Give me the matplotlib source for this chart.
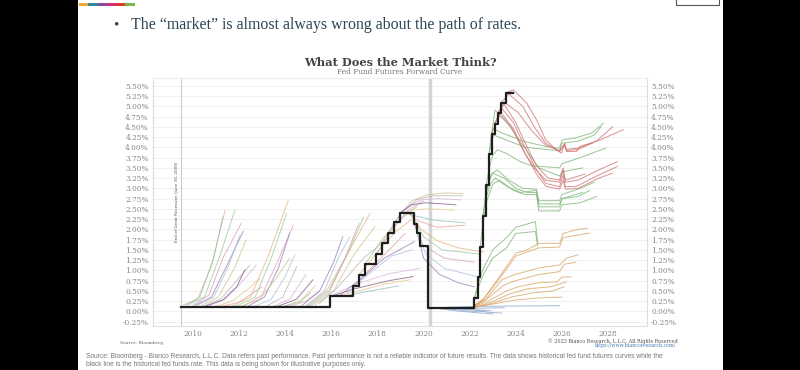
import numpy as np
import matplotlib.pyplot as plt
import matplotlib.patches as mpatches

# ---- data (year, rate %) ----
ff_dates = [2009.5, 2015.96, 2016.96, 2017.21, 2017.46, 2017.96, 2018.21, 2018.46, 2018.73,
            2018.97, 2019.58, 2019.72, 2019.83, 2020.2, 2022.21, 2022.35, 2022.46, 2022.57,
            2022.72, 2022.84, 2022.96, 2023.09, 2023.22, 2023.35, 2023.57, 2023.9]
ff_rates = [0.12, 0.37, 0.62, 0.9, 1.15, 1.41, 1.68, 1.91, 2.18,
            2.4, 2.13, 1.9, 1.6, 0.08, 0.33, 0.83, 1.58, 2.33,
            3.08, 3.83, 4.33, 4.58, 4.83, 5.08, 5.33, 5.33]

curves_2010 = [
    [(2009.6, 0.16), (2010.2, 0.3), (2010.8, 1.1), (2011.39, 2.46)],
    [(2009.8, 0.16), (2010.5, 0.35), (2011.2, 1.4), (2011.82, 2.47)],
    [(2010.0, 0.15), (2010.7, 0.4), (2011.3, 1.3), (2012.1, 2.15)],
    [(2010.1, 0.15), (2010.8, 0.35), (2011.5, 1.15), (2012.18, 1.95)],
    [(2010.2, 0.15), (2010.9, 0.35), (2011.5, 1.05), (2012.04, 1.86)],
    [(2010.4, 0.15), (2011.1, 0.35), (2011.8, 1.05), (2012.3, 1.74)],
    [(2010.5, 0.14), (2011.2, 0.3), (2011.9, 0.75), (2012.47, 1.13)],
    [(2010.7, 0.14), (2011.4, 0.3), (2012.1, 0.7), (2012.75, 1.13)],
    [(2010.6, 0.14), (2011.3, 0.28), (2011.9, 0.6), (2012.25, 1.01)],
    [(2011.0, 0.13), (2011.7, 0.25), (2012.4, 0.55), (2012.9, 0.8)],
    [(2009.7, 0.16), (2010.3, 0.35), (2010.9, 1.3), (2011.3, 2.3)],
    [(2011.2, 0.12), (2012.0, 0.22), (2012.6, 0.45), (2013.0, 0.6)],
]
curves_2012 = [
    [(2011.7, 0.13), (2012.5, 0.35), (2013.3, 1.4), (2014.13, 2.70)],
    [(2011.9, 0.13), (2012.7, 0.35), (2013.4, 1.3), (2014.06, 2.39)],
    [(2012.2, 0.13), (2013.0, 0.4), (2013.7, 1.25), (2014.35, 2.10)],
    [(2012.4, 0.13), (2013.1, 0.35), (2013.7, 1.05), (2014.2, 1.91)],
    [(2012.7, 0.13), (2013.4, 0.3), (2014.0, 0.85), (2014.42, 1.38)],
    [(2012.1, 0.13), (2012.9, 0.3), (2013.6, 0.8), (2014.2, 1.3)],
]
curves_2014 = [
    [(2013.2, 0.13), (2013.9, 0.35), (2014.5, 1.09)],
    [(2013.5, 0.13), (2014.2, 0.3), (2014.9, 0.9)],
    [(2013.7, 0.13), (2014.5, 0.3), (2015.2, 0.77)],
    [(2014.0, 0.13), (2014.7, 0.28), (2015.3, 0.62)],
    [(2013.9, 0.12), (2014.6, 0.22), (2015.1, 0.45)],
    [(2014.2, 0.12), (2014.9, 0.25), (2015.5, 0.5)],
]
curves_2016 = [
    [(2014.9, 0.13), (2015.8, 0.5), (2016.8, 1.5), (2017.68, 2.39)],
    [(2015.0, 0.13), (2015.9, 0.5), (2016.7, 1.4), (2017.4, 2.3)],
    [(2015.1, 0.13), (2015.9, 0.45), (2016.6, 1.3), (2017.2, 2.15)],
    [(2014.7, 0.13), (2015.5, 0.5), (2016.1, 1.2), (2016.5, 1.82)],
    [(2014.9, 0.13), (2015.7, 0.5), (2016.3, 1.3), (2016.8, 1.82)],
    [(2015.3, 0.15), (2016.1, 0.5), (2017.0, 1.4), (2017.9, 2.07)],
    [(2015.5, 0.2), (2016.3, 0.6), (2017.4, 1.3), (2018.5, 1.8)],
    [(2015.96, 0.37), (2017.0, 0.65), (2018.5, 0.92), (2019.84, 1.05)],
    [(2016.0, 0.37), (2017.0, 0.55), (2018.5, 0.75), (2019.55, 0.85)],
    [(2016.2, 0.37), (2017.2, 0.5), (2018.4, 0.68), (2019.4, 0.77)],
    [(2016.5, 0.37), (2017.5, 0.48), (2018.9, 0.62)],
    [(2016.96, 0.62), (2017.8, 1.1), (2018.6, 1.55), (2019.2, 1.9)],
    [(2017.21, 0.9), (2018.0, 1.45), (2018.8, 1.95), (2019.5, 2.25)],
    [(2017.46, 1.15), (2018.2, 1.75), (2019.0, 2.25), (2019.7, 2.55)],
    [(2017.96, 1.41), (2018.6, 1.95), (2019.3, 2.45), (2020.0, 2.7)],
    [(2016.4, 0.4), (2017.3, 0.8), (2018.3, 1.3), (2019.6, 1.7)],
    [(2016.7, 0.45), (2017.6, 0.9), (2018.6, 1.35), (2019.5, 1.5)],
]
curves_2019 = [
    [(2018.21, 1.68), (2018.9, 2.3), (2019.5, 2.7), (2020.2, 2.85), (2021.0, 2.89), (2021.7, 2.87)],
    [(2018.46, 1.91), (2019.1, 2.45), (2019.7, 2.72), (2020.4, 2.82), (2021.7, 2.82)],
    [(2018.73, 2.18), (2019.3, 2.55), (2019.9, 2.72), (2020.6, 2.75), (2021.6, 2.72)],
    [(2018.97, 2.4), (2019.5, 2.6), (2020.1, 2.65), (2021.4, 2.6)],
    [(2019.1, 2.4), (2019.6, 2.48), (2020.3, 2.5), (2021.3, 2.47)],
    [(2019.2, 2.4), (2019.7, 2.32), (2020.5, 2.22), (2021.8, 2.16)],
    [(2019.3, 2.4), (2019.8, 2.2), (2020.6, 2.05), (2021.8, 2.1)],
    [(2019.4, 2.4), (2019.9, 2.0), (2020.6, 1.72), (2021.5, 1.55), (2022.6, 1.45)],
    [(2019.5, 2.35), (2020.0, 1.82), (2020.8, 1.5), (2022.4, 1.4)],
    [(2019.58, 2.13), (2020.0, 1.6), (2020.9, 1.3), (2022.2, 1.2)],
    [(2019.65, 2.1), (2020.0, 1.3), (2020.7, 0.9), (2021.5, 0.7), (2022.2, 0.6)],
    [(2019.75, 1.9), (2020.1, 1.4), (2020.9, 1.05), (2022.3, 0.85)],
]
curves_2020 = [
    [(2020.3, 0.09), (2021.0, 0.06), (2022.0, 0.05), (2022.9, 0.02)],
    [(2020.4, 0.09), (2021.3, 0.02), (2022.3, -0.03), (2023.0, -0.06)],
    [(2020.6, 0.09), (2021.5, 0.07), (2022.5, 0.08), (2023.5, 0.09)],
    [(2021.0, 0.1), (2022.0, 0.12), (2023.5, 0.13), (2025.9, 0.14)],
    [(2020.8, 0.08), (2021.6, 0.03), (2022.2, 0.0), (2022.7, 0.01)],
    [(2021.3, 0.09), (2022.0, 0.05), (2022.8, -0.02), (2023.4, -0.04)],
]
curves_2021 = [
    [(2022.1, 0.1), (2022.6, 0.3), (2023.3, 0.85), (2024.0, 1.42), (2024.5, 1.5), (2025.0, 1.66),
     (2025.9, 1.66), (2026.05, 1.9), (2026.6, 1.99), (2027.1, 2.03)],
    [(2022.1, 0.1), (2022.6, 0.3), (2023.3, 0.8), (2024.0, 1.35), (2024.5, 1.45), (2025.0, 1.55),
     (2025.9, 1.57), (2026.05, 1.8), (2026.6, 1.85), (2027.2, 1.91)],
    [(2022.1, 0.1), (2022.7, 0.3), (2023.4, 0.77), (2023.9, 0.89), (2025.0, 1.06), (2025.9, 1.13),
     (2026.2, 1.3), (2026.7, 1.38)],
    [(2022.1, 0.1), (2022.7, 0.28), (2023.5, 0.65), (2024.0, 0.75), (2025.0, 0.9), (2025.9, 0.97),
     (2026.1, 1.15), (2026.6, 1.2)],
    [(2022.1, 0.1), (2022.8, 0.25), (2023.6, 0.5), (2024.1, 0.6), (2025.0, 0.7), (2025.8, 0.72),
     (2026.0, 0.84), (2026.4, 0.84)],
    [(2022.2, 0.1), (2022.9, 0.22), (2023.7, 0.42), (2024.5, 0.55), (2025.5, 0.6), (2026.2, 0.72)],
    [(2022.2, 0.1), (2023.0, 0.2), (2023.8, 0.35), (2024.7, 0.45), (2025.6, 0.5), (2026.1, 0.6)],
    [(2022.2, 0.1), (2023.0, 0.18), (2024.0, 0.28), (2025.0, 0.33), (2026.0, 0.35)],
]
curves_2022 = [
    [(2022.21, 0.33), (2022.35, 0.65), (2022.6, 1.05), (2023.0, 1.5), (2023.6, 1.8), (2024.0, 2.05),
     (2024.85, 2.19), (2024.95, 1.67)],
    [(2022.21, 0.33), (2022.35, 0.55), (2022.6, 0.9), (2023.0, 1.3), (2023.6, 1.55), (2024.0, 1.9),
     (2024.85, 1.95), (2024.95, 1.6)],
    [(2022.46, 1.58), (2022.58, 2.2), (2022.75, 2.7), (2023.0, 3.1), (2023.3, 3.2), (2023.9, 2.95),
     (2024.4, 2.85), (2024.9, 2.85), (2025.0, 2.45), (2025.9, 2.45), (2026.0, 2.6), (2026.8, 2.65),
     (2027.5, 2.8)],
    [(2022.57, 2.33), (2022.7, 2.85), (2022.85, 3.2), (2023.0, 3.37), (2023.5, 3.25), (2024.0, 3.0),
     (2024.5, 2.9), (2024.9, 2.9), (2025.0, 2.55), (2025.9, 2.55), (2026.0, 2.75), (2026.7, 2.8),
     (2027.2, 2.95)],
    [(2022.57, 2.33), (2022.7, 2.75), (2022.9, 3.1), (2023.1, 3.25), (2023.6, 3.05), (2024.2, 2.9),
     (2024.9, 2.95), (2025.0, 2.7), (2025.9, 2.7), (2026.0, 2.85), (2026.8, 3.0), (2027.4, 3.15)],
    [(2022.72, 3.08), (2022.85, 3.5), (2023.0, 3.8), (2023.2, 3.94), (2023.6, 3.85), (2024.2, 3.65),
     (2024.7, 3.55), (2025.9, 3.5), (2026.0, 3.6), (2026.8, 3.75), (2027.9, 3.98)],
    [(2022.84, 3.83), (2022.92, 4.25), (2023.0, 4.47), (2023.4, 4.35), (2024.4, 4.14), (2025.3, 4.02),
     (2025.9, 3.98), (2026.0, 4.18), (2026.6, 4.23), (2027.3, 4.35), (2027.8, 4.59)],
    [(2022.84, 3.83), (2022.95, 4.15), (2023.05, 4.3), (2023.5, 4.2), (2024.4, 4.0), (2025.3, 3.95),
     (2025.9, 3.92), (2026.0, 4.1), (2026.7, 4.15), (2027.4, 4.3), (2027.7, 4.5)],
    [(2022.96, 4.33), (2023.1, 4.91), (2023.5, 4.7), (2024.0, 4.3), (2024.5, 3.9), (2025.0, 3.5),
     (2025.9, 3.3), (2026.0, 3.4), (2026.9, 3.5)],
    [(2022.66, 2.7), (2022.8, 3.1), (2022.95, 3.35), (2023.2, 3.45), (2023.7, 3.2), (2024.3, 3.0),
     (2024.9, 2.98), (2025.0, 2.62), (2025.9, 2.62), (2026.0, 2.75), (2026.9, 2.9)],
]
curves_2023 = [
    [(2023.57, 5.33), (2023.9, 5.4), (2024.47, 5.08), (2024.9, 4.67), (2025.3, 4.18), (2025.75, 3.94),
     (2025.98, 3.86), (2026.13, 4.1), (2026.2, 3.9), (2026.64, 3.9), (2026.78, 4.02), (2027.65, 4.18),
     (2028.66, 4.43)],
    [(2023.35, 5.08), (2023.7, 5.3), (2024.3, 5.0), (2024.8, 4.5), (2025.3, 4.1), (2025.9, 3.9),
     (2026.1, 4.05), (2026.2, 3.92), (2026.7, 3.95), (2027.5, 4.15), (2028.2, 4.5)],
    [(2023.22, 4.83), (2023.5, 5.1), (2024.1, 4.85), (2024.7, 4.4), (2025.3, 4.05), (2025.9, 3.92),
     (2026.1, 4.08), (2026.2, 3.95), (2026.7, 3.98), (2027.3, 4.1)],
    [(2023.09, 4.58), (2023.4, 4.95), (2023.9, 4.6), (2024.4, 4.0), (2024.9, 3.45), (2025.3, 3.12),
     (2025.9, 3.04), (2026.05, 3.33), (2026.15, 3.04), (2026.64, 3.05), (2027.5, 3.3), (2028.4, 3.53)],
    [(2023.09, 4.58), (2023.35, 4.85), (2023.9, 4.45), (2024.4, 3.85), (2024.9, 3.35), (2025.3, 3.05),
     (2025.9, 2.98), (2026.05, 3.2), (2026.15, 2.98), (2026.7, 3.0), (2027.6, 3.25), (2028.2, 3.37)],
    [(2022.96, 4.33), (2023.25, 4.8), (2023.8, 4.5), (2024.3, 3.95), (2024.8, 3.5), (2025.3, 3.2),
     (2025.9, 3.15), (2026.05, 3.45), (2026.15, 3.15), (2026.7, 3.2), (2027.6, 3.45), (2028.4, 3.65)],
    [(2023.22, 4.83), (2023.5, 5.05), (2024.0, 4.6), (2024.5, 4.0), (2024.9, 3.55), (2025.4, 3.25),
     (2025.9, 3.2), (2026.05, 3.5), (2026.15, 3.2), (2027.0, 3.35)],
]

y_ticks = np.arange(-0.25, 5.51, 0.25)
x_years = list(range(2010, 2029, 2))
recession_end = 2009.5
covid_line = 2020.27

pastel = ['#e3b27a', '#9cc79a', '#d9a0b8', '#9a7bb5', '#a7c0dc', '#c9c38a',
          '#b5b5b5', '#d8b4d8', '#7e5a86', '#e7c58d', '#8fc1b5', '#e8a0a0']

# ---- figure ----
fig = plt.figure(figsize=(8, 3.7), dpi=100, facecolor='black')
fig.patches.append(mpatches.Rectangle((78 / 800, 0), 645 / 800, 1, transform=fig.transFigure,
                                      facecolor='white', edgecolor='none', zorder=-10))
# colour strip + box at top
strip = ['#f0a830', '#2a8aa0', '#8a4a9a', '#d03070', '#e03a30', '#7ab648']
for i, c in enumerate(strip):
    fig.patches.append(mpatches.Rectangle(((79 + i * 9.3) / 800, 1 - 6 / 370), 9.3 / 800, 3 / 370,
                                          transform=fig.transFigure, facecolor=c, edgecolor='none',
                                          zorder=-5))
fig.patches.append(mpatches.Rectangle((676 / 800, 1 - 5 / 370), 43 / 800, 8 / 370, transform=fig.transFigure,
                                      facecolor='white', edgecolor='#555555', lw=0.8, zorder=-5))

fig.text(113 / 800, 1 - 25 / 370, '\u2022', fontsize=11, color='#2b4655', va='center', family='Liberation Serif')
fig.text(131 / 800, 1 - 25 / 370, 'The \u201cmarket\u201d is almost always wrong about the path of rates.',
         fontsize=11.4, color='#2b4655', va='center', family='Liberation Serif')

fig.text(0.5, 1 - 62 / 370, 'What Does the Market Think?', ha='center', va='center',
         fontsize=8.2, fontweight='bold', color='#444444', family='DejaVu Serif')
fig.text(0.5, 1 - 71.5 / 370, 'Fed Fund Futures Forward Curve', ha='center', va='center',
         fontsize=5.3, color='#777777', family='DejaVu Serif')

ax = fig.add_axes([153 / 800, 1 - 326 / 370, 494 / 800, 248 / 370])
ax.set_zorder(1)
ax.set_facecolor('white')
ax.set_xlim(2008.27, 2029.69)
ax.set_ylim(-0.355, 5.69)

for v in y_ticks:
    ax.axhline(v, color='#eeeeee', lw=0.6, zorder=0)
ax.axvline(recession_end, color='#cccccc', lw=0.8, zorder=1)
ax.axvline(covid_line, color='#d4d4d4', lw=2.5, zorder=1)
ax.text(recession_end - 0.2, 2.67, 'End of Great Recession (June 30, 2009)', rotation=90,
        ha='center', va='center', fontsize=3, color='#555555')

k = 0
for grp in [curves_2010, curves_2012, curves_2014, curves_2016, curves_2019]:
    for c in grp:
        xs, ys = zip(*c)
        ax.plot(xs, ys, color=pastel[k % len(pastel)], lw=0.7, alpha=0.75, zorder=2)
        k += 1
for c in curves_2020:
    xs, ys = zip(*c)
    ax.plot(xs, ys, color='#8ea9cc', lw=0.7, alpha=0.8, zorder=2)
for c in curves_2021:
    xs, ys = zip(*c)
    ax.plot(xs, ys, color='#d6a160', lw=0.7, alpha=0.75, zorder=2)
for c in curves_2022:
    xs, ys = zip(*c)
    ax.plot(xs, ys, color='#80b67a', lw=0.7, alpha=0.8, zorder=2)
for c in curves_2023:
    xs, ys = zip(*c)
    ax.plot(xs, ys, color='#cf7677', lw=0.7, alpha=0.8, zorder=2)

ax.plot(ff_dates, ff_rates, drawstyle='steps-post', color='#1e1e1e', lw=1.6, zorder=5)

ax.set_yticks(y_ticks)
ax.set_yticklabels([f'{v:.2f}%' for v in y_ticks], family='DejaVu Serif', fontsize=5.3, color='#888888')
ax.set_xticks(x_years)
ax.set_xticklabels([str(y) for y in x_years], family='DejaVu Serif', fontsize=5.3, color='#888888')
ax.tick_params(axis='y', length=0, pad=3, labelleft=True, labelright=True)
ax.tick_params(axis='x', length=0, pad=3)
for s in ['left', 'right']:
    ax.spines[s].set_color('#dddddd')
    ax.spines[s].set_linewidth(0.8)
ax.spines['top'].set_color('#eeeeee')
ax.spines['bottom'].set_color('#e0e0e0')

# footer
fig.text(120 / 800, 1 - 343 / 370, 'Source: Bloomberg', fontsize=3.2, color='#666666', va='center',
         family='DejaVu Serif')
fig.text(678 / 800, 1 - 341 / 370, '\u00a9 2023 Bianco Research, L.L.C. All Rights Reserved', fontsize=3.5,
         color='#555555', va='center', ha='right', family='DejaVu Serif')
fig.text(676 / 800, 1 - 346 / 370, 'https://www.biancoresearch.com/', fontsize=3.4,
         color='#4a7ab5', va='center', ha='right', family='DejaVu Serif')
fig.text(86 / 800, 1 - 356 / 370,
         'Source: Bloomberg - Bianco Research, L.L.C. Data refers past performance. Past performance is not a '
         'reliable indicator of future results. The data shows historical fed fund futures curves while the',
         fontsize=4.75, color='#777777', va='center', family='Liberation Sans')
fig.text(86 / 800, 1 - 365 / 370,
         'black line is the historical fed funds rate. This data is being shown for illustrative purposes only.',
         fontsize=4.75, color='#777777', va='center', family='Liberation Sans')

fig.savefig('out.png', dpi=100, facecolor='black')
